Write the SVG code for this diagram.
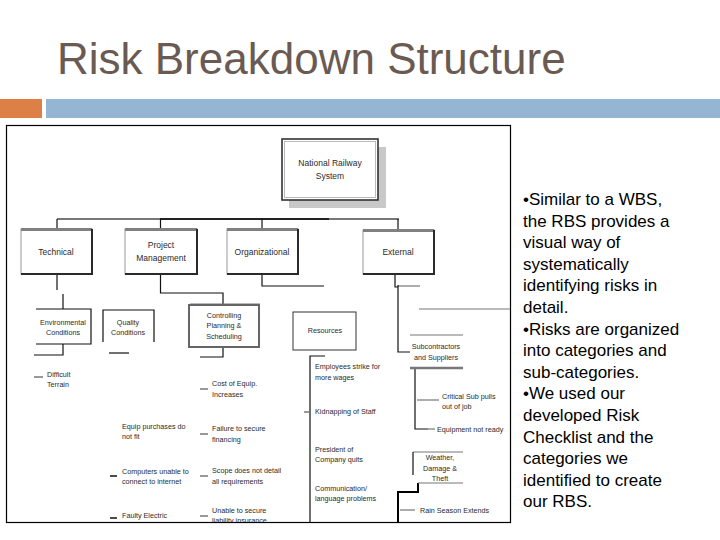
<svg xmlns="http://www.w3.org/2000/svg" width="720" height="540" viewBox="0 0 720 540">
<style>
.title{font-family:"Liberation Sans",Arial,sans-serif;font-size:44px;fill:#6a5a52}
.body{font-family:"Liberation Sans",Arial,sans-serif;font-size:17px;fill:#000}
.m{font-family:"Liberation Sans",Arial,sans-serif;font-size:8.5px;fill:#2a2a2a;text-anchor:middle}
.s{font-family:"Liberation Sans",Arial,sans-serif;font-size:7.2px;fill:#2a2a2a}
.sc{font-family:"Liberation Sans",Arial,sans-serif;font-size:7.2px;fill:#2a2a2a;text-anchor:middle}
.bx{fill:#fff;stroke:#999;stroke-width:1}
.topg{stroke:#808080;stroke-width:3;fill:none}
.dk{stroke:#2a2a2a;stroke-width:2;fill:none}
.ln{stroke:#111;stroke-width:1.2;fill:none}
.gl{stroke:#777;stroke-width:1.2;fill:none}
.dash{stroke:#777;stroke-width:1.5}
.dashk{stroke:#111;stroke-width:1.5}
</style>
<defs>
<clipPath id="frameClip"><rect x="7" y="126" width="503" height="396"/></clipPath>
</defs>
<rect width="720" height="540" fill="#fff"/>
<text class="title" x="57" y="74">Risk Breakdown Structure</text>
<rect x="0" y="99" width="42" height="19" fill="#dd8047"/>
<rect x="46" y="99" width="674" height="19" fill="#94b6d2"/>
<rect x="6.5" y="125.5" width="504" height="397" fill="#fff" stroke="#000" stroke-width="1.2"/>

<g clip-path="url(#frameClip)">
<g id="connectors">
  <line x1="57" y1="219" x2="160" y2="219" stroke="#777" stroke-width="2"/>
  <line x1="160" y1="219" x2="329" y2="219" stroke="#222" stroke-width="2"/>
  <line x1="329" y1="219" x2="399" y2="219" stroke="#777" stroke-width="2"/>
  <line class="ln" x1="57" y1="219" x2="57" y2="229"/>
  <line class="ln" x1="160.5" y1="219" x2="160.5" y2="229"/>
  <line class="ln" x1="262" y1="219" x2="262" y2="229"/>
  <line class="ln" x1="398" y1="219" x2="398" y2="230"/>
  <polyline class="ln" points="57,274 57,290"/>
  <polyline class="ln" points="63,294 63,309"/>
  <polyline class="ln" points="63,344 63,355 34,355"/>
  <line class="ln" x1="109" y1="353" x2="129" y2="353"/>
  <polyline class="ln" points="160.5,274 160.5,293 223,293 223,305"/>
  <line class="gl" x1="190" y1="304" x2="260" y2="304"/>
  <polyline class="ln" points="262,274 262,286 324,286"/>
  <polyline class="ln" points="395,274 395,287 398,287"/>
  <line class="gl" x1="398" y1="286" x2="420" y2="286"/>
  <line class="gl" x1="419" y1="309" x2="510" y2="309"/>
  <polyline class="ln" points="398,285 398,352 410,352"/>
  <polyline class="ln" points="223,347 223,357 200,357"/>
  <polyline class="ln" points="325,356 310,356 310,523"/>
  <line class="dash" x1="304" y1="412" x2="309" y2="412"/>
  <polyline class="ln" points="415,368 415,429 428,429"/>
  <line class="gl" x1="428" y1="429" x2="435" y2="429"/>
  <line class="gl" x1="417" y1="400" x2="439" y2="400"/>
  <polyline points="398,523 398,492 418,492 418,483" fill="none" stroke="#000" stroke-width="2"/>
  <line class="gl" x1="400" y1="510" x2="415" y2="510"/>
  <line class="dash" x1="34" y1="377" x2="43" y2="377"/>
  <line class="dashk" x1="110" y1="476" x2="117" y2="476"/>
  <line class="dashk" x1="110" y1="518" x2="117" y2="518"/>
  <line class="dash" x1="200" y1="389" x2="208" y2="389"/>
  <line class="dash" x1="200" y1="434" x2="208" y2="434"/>
  <line class="dash" x1="200" y1="476" x2="208" y2="476"/>
  <line class="dash" x1="200" y1="516" x2="208" y2="516"/>
</g>

<g id="national-railway">
  <rect x="289" y="147" width="97" height="61" fill="#c8c8c8"/>
  <rect x="282" y="139" width="96" height="61" fill="#fff" stroke="#333" stroke-width="1.6"/>
  <rect x="284.5" y="141.5" width="91" height="56" fill="none" stroke="#aaa" stroke-width="0.8"/>
  <text class="m" x="330" y="166">National Railway</text>
  <text class="m" x="330" y="179">System</text>
</g>

<g id="technical">
  <rect class="bx" x="21" y="229" width="71" height="45"/>
  <line class="topg" x1="21" y1="229.5" x2="92" y2="229.5"/>
  <polyline class="dk" points="92,229 92,274 21,274"/>
  <text class="m" x="56" y="255">Technical</text>
</g>

<g id="project-management">
  <rect class="bx" x="125" y="229" width="72" height="45"/>
  <line class="topg" x1="125" y1="229.5" x2="197" y2="229.5"/>
  <polyline class="dk" points="197,229 197,274 125,274"/>
  <text class="m" x="161" y="248">Project</text>
  <text class="m" x="161" y="261">Management</text>
</g>

<g id="organizational">
  <rect class="bx" x="227" y="229" width="71" height="45"/>
  <line class="topg" x1="227" y1="229.5" x2="298" y2="229.5"/>
  <polyline class="dk" points="298,229 298,274 227,274"/>
  <text class="m" x="262" y="255">Organizational</text>
</g>

<g id="external">
  <rect class="bx" x="363" y="230" width="71" height="44"/>
  <line class="topg" x1="363" y1="230.5" x2="434" y2="230.5"/>
  <polyline class="dk" points="434,230 434,274 363,274"/>
  <text class="m" x="398" y="255">External</text>
</g>

<g id="environmental">
  <polyline class="ln" points="36,309 91,309 91,344 36,344"/>
  <text class="sc" x="63" y="325">Environmental</text>
  <text class="sc" x="63" y="335">Conditions</text>
</g>

<g id="quality">
  <polyline class="ln" points="103,342 103,310 154,310 154,342"/>
  <text class="sc" x="128" y="325">Quality</text>
  <text class="sc" x="128" y="335">Conditions</text>
</g>

<g id="controlling">
  <rect x="189" y="305" width="70" height="42" fill="#fff" stroke="#666" stroke-width="2"/>
  <text class="sc" x="224" y="318">Controlling</text>
  <text class="sc" x="224" y="328">Planning &amp;</text>
  <text class="sc" x="224" y="339">Scheduling</text>
</g>

<g id="resources">
  <rect x="293" y="312" width="63" height="38" fill="#fff" stroke="#333" stroke-width="1"/>
  <text class="sc" x="325" y="333">Resources</text>
</g>

<g id="subcontractors">
  <line class="gl" x1="410" y1="335" x2="463" y2="335"/>
  <line x1="410" y1="368" x2="463" y2="368" stroke="#777" stroke-width="2.5"/>
  <text class="sc" x="436" y="349">Subcontractors</text>
  <text class="sc" x="436" y="360">and Suppliers</text>
</g>

<g id="weather">
  <line class="gl" x1="413" y1="452" x2="463" y2="452"/>
  <line class="ln" x1="413" y1="452" x2="413" y2="475"/>
  <line class="gl" x1="418" y1="483" x2="463" y2="483"/>
  <text class="sc" x="440" y="460">Weather,</text>
  <text class="sc" x="440" y="471">Damage &amp;</text>
  <text class="sc" x="440" y="481">Theft</text>
</g>

<g id="risk-items">
  <text class="s" x="47" y="376.5">Difficult</text>
  <text class="s" x="47" y="386.5">Terrain</text>
  <text class="s" x="122" y="428.5">Equip purchases do</text>
  <text class="s" x="122" y="438.5">not fit</text>
  <text class="s" x="122" y="473.5">Computers unable to</text>
  <text class="s" x="122" y="483.5">connect to internet</text>
  <text class="s" x="122" y="517.5">Faulty Electric</text>
  <text class="s" x="212" y="385.5">Cost of Equip.</text>
  <text class="s" x="212" y="396.5">Increases</text>
  <text class="s" x="212" y="430.5">Failure to secure</text>
  <text class="s" x="212" y="441.5">financing</text>
  <text class="s" x="212" y="472.5">Scope does not detail</text>
  <text class="s" x="212" y="483.5">all requirements</text>
  <text class="s" x="212" y="512.5">Unable to secure</text>
  <text class="s" x="212" y="523">liability insurance</text>
  <text class="s" x="315" y="368.5">Employees strike for</text>
  <text class="s" x="315" y="379.5">more wages</text>
  <text class="s" x="315" y="413.5">Kidnapping of Staff</text>
  <text class="s" x="315" y="451.5">President of</text>
  <text class="s" x="315" y="461.5">Company quits</text>
  <text class="s" x="315" y="490.5">Communication/</text>
  <text class="s" x="315" y="500.5">language problems</text>
  <text class="s" x="442" y="398.5">Critical Sub pulls</text>
  <text class="s" x="442" y="408.5">out of job</text>
  <text class="s" x="437" y="431.5">Equipment not ready</text>
  <text class="s" x="420" y="512.5">Rain Season Extends</text>
</g>
</g>

<g id="notes">
  <text class="body" x="523" y="205">•Similar to a WBS,</text>
  <text class="body" x="523" y="226.6">the RBS provides a</text>
  <text class="body" x="523" y="248.2">visual way of</text>
  <text class="body" x="523" y="269.8">systematically</text>
  <text class="body" x="523" y="291.4">identifying risks in</text>
  <text class="body" x="523" y="313">detail.</text>
  <text class="body" x="523" y="334.6">•Risks are organized</text>
  <text class="body" x="523" y="356.2">into categories and</text>
  <text class="body" x="523" y="377.8">sub-categories.</text>
  <text class="body" x="523" y="399.4">•We used our</text>
  <text class="body" x="523" y="421">developed Risk</text>
  <text class="body" x="523" y="442.6">Checklist and the</text>
  <text class="body" x="523" y="464.2">categories we</text>
  <text class="body" x="523" y="485.8">identified to create</text>
  <text class="body" x="523" y="507.4">our RBS.</text>
</g>
</svg>
